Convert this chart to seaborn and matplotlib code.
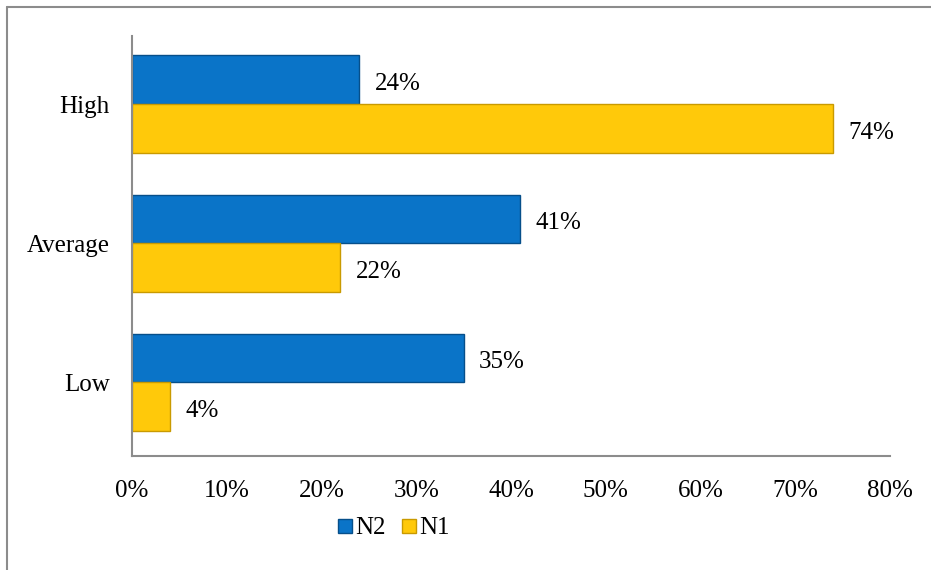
import matplotlib
matplotlib.use("Agg")
import matplotlib.pyplot as plt
import seaborn as sns
import pandas as pd
from matplotlib.lines import Line2D

categories = ["High", "Average", "Low"]
n2_values = [24, 41, 35]
n1_values = [74, 22, 4]
series = ["N2", "N1"]
x_ticks = [0, 10, 20, 30, 40, 50, 60, 70, 80]

df = pd.DataFrame({
    "Level": categories * 2,
    "Value": n2_values + n1_values,
    "Series": ["N2"] * 3 + ["N1"] * 3,
})

sns.set_theme(style="white")
plt.rcParams["font.family"] = ["Liberation Serif", "DejaVu Serif"]

FS = 18
W, H = 931, 570
fig = plt.figure(figsize=(W / 100, H / 100), dpi=100)
ax = fig.add_axes([132 / W, (H - 456) / H, (890 - 132) / W, (456 - 36) / H])

palette = {"N2": "#0A74C8", "N1": "#FFC90A"}
edges = {"N2": "#064F8A", "N1": "#C99A00"}
sns.barplot(data=df, y="Level", x="Value", hue="Series", hue_order=series,
            order=categories, orient="h", palette=palette, width=0.7,
            ax=ax, legend=False, saturation=1)

for cont, s in zip(ax.containers, series):
    for p in cont:
        p.set_edgecolor(edges[s])
        p.set_linewidth(1.0)
    texts = ax.bar_label(cont, labels=[f"{v:.0f}%" for v in cont.datavalues],
                         padding=11, fontsize=FS, color="black")
    for t in texts:
        t.xyann = (11, -3)

ax.set_xlim(0, 80)
ax.set_ylim(2.53, -0.49)
ax.set_xticks(x_ticks)
ax.set_xticklabels([f"{t}%" for t in x_ticks], fontsize=FS, color="black")
ax.tick_params(axis="y", labelsize=FS, length=0, pad=16, labelcolor="black")
ax.tick_params(axis="x", length=0, pad=17)
ax.set_xlabel("")
ax.set_ylabel("")
for s in ["top", "right"]:
    ax.spines[s].set_visible(False)
for s in ["left", "bottom"]:
    ax.spines[s].set_color("#8C8C8C")
    ax.spines[s].set_linewidth(1.5)

handles = [Line2D([], [], marker="s", linestyle="none", markersize=10,
                  markerfacecolor=palette[s], markeredgecolor=edges[s], label=s)
           for s in series]
fig.legend(handles=handles, loc="center", bbox_to_anchor=(393 / W, 1 - 528 / H),
           ncol=2, frameon=False, fontsize=FS, handletextpad=0.05,
           columnspacing=0.6, handlelength=0.7, labelcolor="black")

# outer chart border
fig.add_artist(Line2D([7 / W, 7 / W], [0, 1 - 7 / H], transform=fig.transFigure,
                      color="#8C8C8C", linewidth=1.5))
fig.add_artist(Line2D([7 / W, 1], [1 - 7 / H, 1 - 7 / H], transform=fig.transFigure,
                      color="#8C8C8C", linewidth=1.5))

fig.savefig("out.png", dpi=100)
